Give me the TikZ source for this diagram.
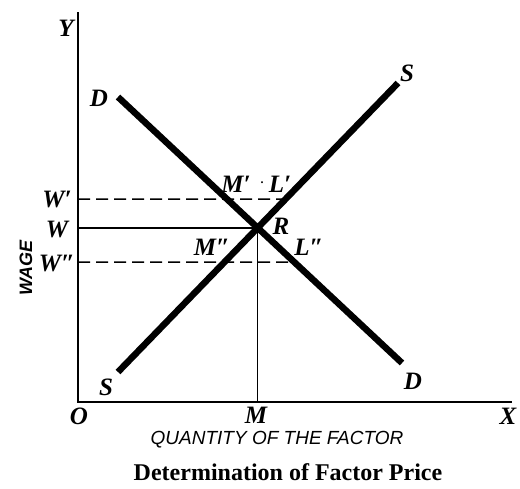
\documentclass[tikz,border=0pt]{standalone}
\usepackage{fontspec}
\setmainfont{Liberation Serif}
\setsansfont{Liberation Sans}
\usetikzlibrary{intersections}

\begin{document}
\begin{tikzpicture}[x=1pt,y=-1pt,
    lbl/.style={font=\fontsize{25}{27}\selectfont\bfseries\itshape},
    curve/.style={line width=6.5pt},
    axis/.style={line width=1.8pt},
    guide/.style={line width=1.6pt},
    dashguide/.style={line width=1.5pt, dash pattern=on 12pt off 6pt}]
    \useasboundingbox (0,0) rectangle (520,488);
    % axes
    \coordinate (O) at (78,402);
    \coordinate (ytop) at (78,12);
    \coordinate (xend) at (512,402);
    \draw[axis] (ytop) -- (O) -- (xend);
    % demand and supply
    \coordinate (D1) at (118,97);
    \coordinate (D2) at (402,363);
    \coordinate (S1) at (118,372);
    \coordinate (S2) at (398,83);
    \draw[curve, name path=dd] (D1) -- (D2);
    \draw[curve, name path=ss] (S1) -- (S2);
    \path[name intersections={of=dd and ss, by=R}];
    \draw[guide] (O |- R) -- (R) -- (R |- O);
    % wages above and below equilibrium
    \coordinate (Wup) at (78,199);
    \coordinate (Wdn) at (78,262);
    \path[name path=wup] (Wup) -- ++(400,0);
    \path[name path=wdn] (Wdn) -- ++(400,0);
    \path[name intersections={of=ss and wup, by=Lup}];
    \path[name intersections={of=dd and wdn, by=Ldn}];
    \draw[dashguide] (Wup) -- (Lup);
    \draw[dashguide] (Wdn) -- (Ldn);
    % labels
    \foreach \x/\y/\name/\txt in {66/28/ylbl/Y, 99/98/dtop/D, 407/73/stop/S,
      106/387/sbot/S, 413/381/dbot/D, 236/184/mup/M′, 280/184/lup/L′,
      281/226/rlbl/R, 212/247/mdn/M″, 309/247/ldn/L″,
      57/199/wuplbl/W′, 57/229/wlbl/W, 57/263/wdnlbl/W″,
      79/416/olbl/O, 256/415/mlbl/M, 508/416/xlbl/X} {
      \node[lbl] (\name) at (\x,\y) {\txt};
    }
    \node[lbl, font=\fontsize{12}{12}\selectfont\bfseries] (dot) at (262,183) {.};
    \node[rotate=90, font=\fontsize{18}{20}\selectfont\sffamily\bfseries\itshape] (wage) at (26,268) {WAGE};
    \node[font=\fontsize{19}{21}\selectfont\sffamily\itshape] (qty) at (277,440) {QUANTITY OF THE FACTOR};
    \node[font=\fontsize{24}{26}\selectfont\bfseries] (title) at (288,472) {Determination of Factor Price};
\end{tikzpicture}
\end{document}
